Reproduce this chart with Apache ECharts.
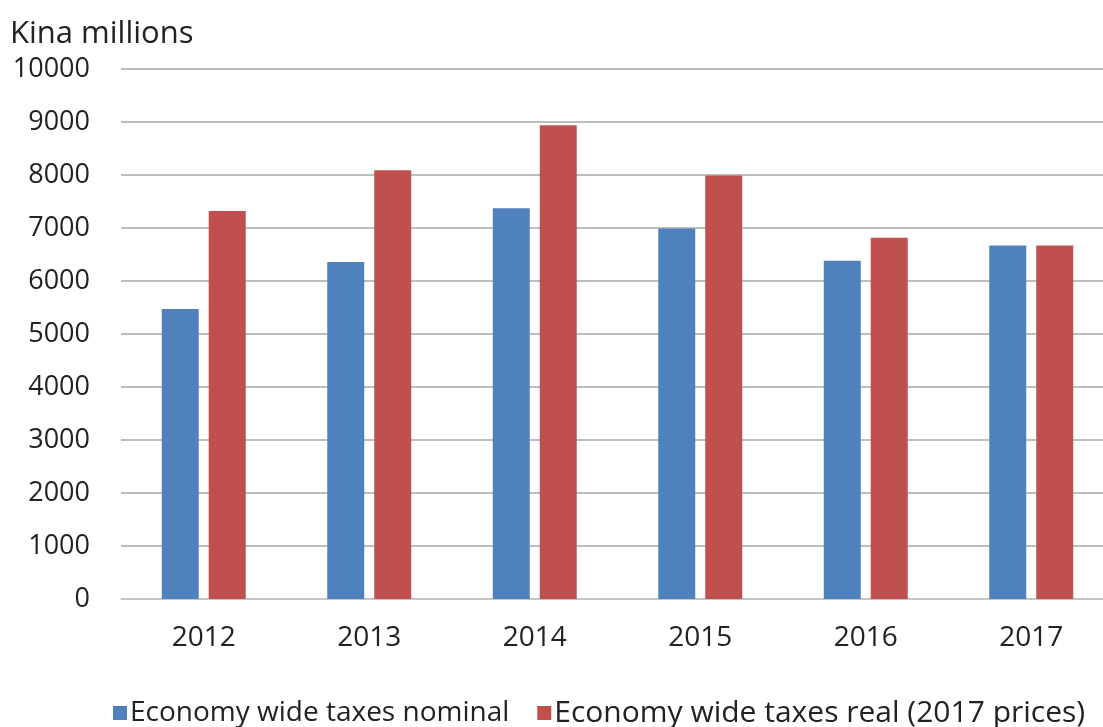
<!DOCTYPE html>
<html>
<head>
<meta charset="utf-8">
<script src="https://cdn.jsdelivr.net/npm/echarts@6/dist/echarts.min.js"></script>
<style>
html,body{margin:0;padding:0;background:#fff;overflow:hidden;width:1103px;height:727px;}
#c{width:1114px;height:727px;}
</style>
</head>
<body>
<div id="c"></div>
<script>
const categories = ['2012', '2013', '2014', '2015', '2016', '2017'];
const nominal = [5470, 6360, 7375, 6990, 6380, 6670];
const real = [7320, 8090, 8940, 7990, 6815, 6670];
const seriesNames = ['Economy wide taxes nominal', 'Economy wide taxes real (2017 prices)'];
const yTitle = 'Kina millions';

const font = 'Open Sans';
const chart = echarts.init(document.getElementById('c'));
chart.setOption({
  animation: false,
  backgroundColor: '#ffffff',
  textStyle: { fontFamily: font },
  title: {
    text: yTitle,
    left: 5, top: 14,
    textStyle: { fontFamily: font, fontSize: 31, fontWeight: 'normal', color: '#222' }
  },
  legend: {
    top: 693, left: 108,
    itemWidth: 14, itemHeight: 14, itemGap: 28,
    icon: 'rect',
    textStyle: { fontFamily: font, fontSize: 29, color: '#222', padding: [0, 0, 0, -2] },
    data: [
      { name: seriesNames[0], textStyle: { fontSize: 28 } },
      { name: seriesNames[1], textStyle: { fontSize: 30 } }
    ]
  },
  grid: { left: 121, top: 69, width: 993, height: 530, containLabel: false },
  xAxis: {
    type: 'category', data: categories,
    axisLine: { lineStyle: { color: '#c8c8c8', width: 1.5 } },
    axisTick: { show: false },
    axisLabel: { fontFamily: font, fontSize: 28, color: '#222', margin: 25 }
  },
  yAxis: {
    type: 'value', min: 0, max: 10000, interval: 1000,
    axisLine: { show: false }, axisTick: { show: false },
    splitLine: { lineStyle: { color: '#a8a8a8', width: 1.6 } },
    axisLabel: { fontFamily: font, fontSize: 27, color: '#222', margin: 31,
      formatter: function (v) { return String(v); } }
  },
  series: [
    { name: seriesNames[0], type: 'bar', data: nominal, barWidth: 37, barGap: '27%',
      itemStyle: { color: '#4F81BD' } },
    { name: seriesNames[1], type: 'bar', data: real, barWidth: 37, barGap: '27%',
      itemStyle: { color: '#C0504D' } }
  ]
});
</script>
</body>
</html>
